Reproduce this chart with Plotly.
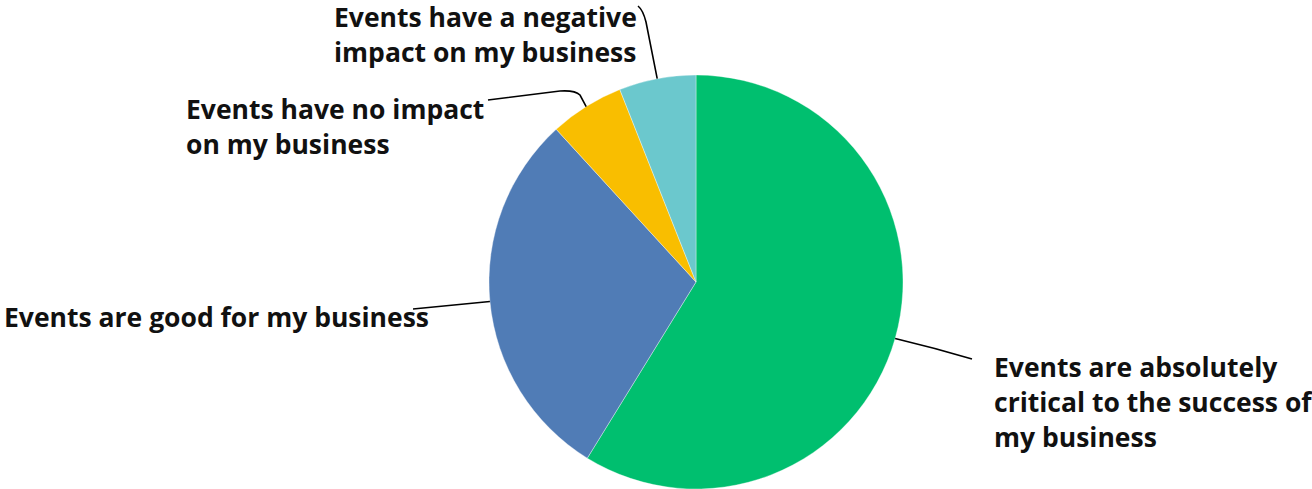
import math
import plotly.graph_objects as go

W, H = 1312, 489

labels = [
    "Events are absolutely critical to the success of my business",
    "Events are good for my business",
    "Events have no impact on my business",
    "Events have a negative impact on my business",
]
values = [58.8, 29.4, 5.8, 6.0]
colors = ["#00BF6F", "#507CB6", "#F9BE00", "#6BC8CD"]

# label text broken into display lines
label_lines = [
    ["Events are absolutely", "critical to the success of", "my business"],
    ["Events are good for my business"],
    ["Events have no impact", "on my business"],
    ["Events have a negative", "impact on my business"],
]

# layout (pixels)
CX, CY, R = 696, 282, 207
label_pos = [(992, 377), (2, 327), (184, 119), (332, 27)]  # left x, first baseline
LINE_GAP = 35
# leader-line path after the rim point (pixel coords)
leader_tail = [
    "Q 935,348 972,359",
    "L 413,309",
    "L 580,95 Q 575,90 560,91 L 488,100",
    "L 646,22 Q 643,10 638,6",
]


def px(x, y):
    return f"{x / W:.5f},{1 - y / H:.5f}"


def tail_to_paper(seg):
    out = []
    for tok in seg.split():
        if "," in tok:
            a, b = tok.split(",")
            out.append(px(float(a), float(b)))
        else:
            out.append(tok)
    return " ".join(out)


fig = go.Figure()
fig.add_trace(go.Pie(
    labels=labels,
    values=values,
    marker=dict(colors=colors, line=dict(color="rgba(255,255,255,0.6)", width=0.6)),
    sort=False,
    direction="clockwise",
    rotation=0,
    textinfo="none",
    hoverinfo="label+percent",
    showlegend=False,
    domain=dict(x=[(CX - R) / W, (CX + R) / W], y=[max(0, 1 - (CY + R) / H), 1 - (CY - R) / H]),
))

total = sum(values)
cum = 0.0
shapes = []
annotations = []
font = dict(family="Open Sans", size=26.5, color="#111111", weight=700)
for i, v in enumerate(values):
    mid = (cum + v / 2) / total * 2 * math.pi
    cum += v
    rx = CX + R * math.sin(mid)
    ry = CY - R * math.cos(mid)
    path = f"M {px(rx, ry)} " + tail_to_paper(leader_tail[i])
    shapes.append(dict(type="path", xref="paper", yref="paper", path=path,
                       line=dict(color="#000000", width=1.6)))
    lx, ly = label_pos[i]
    for j, line in enumerate(label_lines[i]):
        by = ly + j * LINE_GAP
        annotations.append(dict(
            text=line, xref="paper", yref="paper",
            x=lx / W, y=1 - (by - 10) / H,
            xanchor="left", yanchor="middle", showarrow=False,
            font=font,
        ))

fig.update_layout(
    margin=dict(l=0, r=0, t=0, b=0),
    paper_bgcolor="white",
    plot_bgcolor="white",
    shapes=shapes,
    annotations=annotations,
)

fig.write_html(
    "out.html",
    config={"displayModeBar": False},
    post_script=(
        "document.documentElement.style.margin='0';"
        "document.body.style.margin='0';"
        "document.body.style.overflow='hidden';"
        "Plotly.Plots.resize(document.getElementById('{plot_id}'));"
    ),
)
